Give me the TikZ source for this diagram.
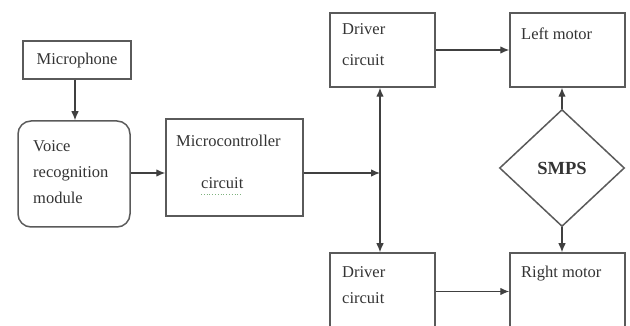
\documentclass[tikz,border=0pt]{standalone}
\usepackage{fontspec}
\setmainfont{Liberation Serif}
\usetikzlibrary{shapes.geometric,arrows.meta}
\definecolor{linegray}{HTML}{5A5A5A}
\definecolor{txtgray}{HTML}{333333}
\definecolor{spellgreen}{HTML}{7FB27F}
\begin{document}
\begin{tikzpicture}[x=1pt,y=-1pt,
  box/.style={draw=linegray, line width=1.5pt, inner sep=0pt},
  lbl/.style={anchor=base west, inner sep=0pt, text=txtgray, font=\fontsize{16.5}{20}\selectfont},
  tip/.style={},
  arr/.style={draw=black!75, line width=1.1pt, -{Latex[length=9pt,width=7.5pt]}},
  dblarr/.style={draw=black!75, line width=1.1pt, {Latex[length=9pt,width=7.5pt]}-{Latex[length=9pt,width=7.5pt]}}]
\useasboundingbox (0,0) rectangle (630,326);
\clip (0,0) rectangle (630,326);
% boxes
\node[box, minimum width=108pt, minimum height=38pt] (mic) at (77,60) {};
\node[box, rounded corners=13pt, minimum width=112pt, minimum height=106pt] (voice) at (74,174) {};
\node[box, minimum width=137pt, minimum height=97pt] (micro) at (234.5,167.5) {};
\node[box, minimum width=105pt, minimum height=74pt] (d1) at (382.5,50) {};
\node[box, minimum width=115pt, minimum height=74pt] (lm) at (567.5,50) {};
\node[box, minimum width=105pt, minimum height=77pt] (d2) at (382.5,291.5) {};
\node[box, minimum width=115pt, minimum height=77pt] (rm) at (567.5,291.5) {};
\node[box, diamond, aspect=1, minimum width=125pt, minimum height=117pt] (smps) at (562,168) {};
% texts
\node[lbl, anchor=center] (tmic) at (77,61) {Microphone};
\node[lbl] (tv1) at (33,152) {Voice};
\node[lbl] (tv2) at (33,178) {recognition};
\node[lbl] (tv3) at (33,204) {module};
\node[lbl] (tm1) at (176,147) {Microcontroller};
\node[lbl] (tm2) at (201,189) {circuit};
\node[lbl] (td11) at (342,35) {Driver};
\node[lbl] (td12) at (342,66) {circuit};
\node[lbl] (tlm) at (521,40) {Left motor};
\node[lbl] (td21) at (342,277) {Driver};
\node[lbl] (td22) at (342,304) {circuit};
\node[lbl] (trm) at (521,278) {Right motor};
\node[lbl, anchor=center, font=\fontsize{18.5}{22}\selectfont\bfseries] (tsmps) at (562,168) {SMPS};
\draw[spellgreen, line width=0.8pt, dotted] (tm2.base west) ++(0,5) -- ++(41,0);
% junction
\coordinate (j) at (380,173);
% connectors
\draw[arr] (mic.south -| 75,0) -- (voice.north -| 75,0);
\draw[arr] (voice.east |- j) -- (micro.west |- j);
\draw[arr] (micro.east |- j) -- (j);
\draw[dblarr] (j |- d1.south) -- (j |- d2.north);
\draw[arr] (d1.east) -- (lm.west);
\draw[arr] (d2.east) -- (rm.west);
\draw[arr] (smps.north) -- (smps.north |- lm.south);
\draw[arr] (smps.south) -- (smps.south |- rm.north);
\end{tikzpicture}
\end{document}
